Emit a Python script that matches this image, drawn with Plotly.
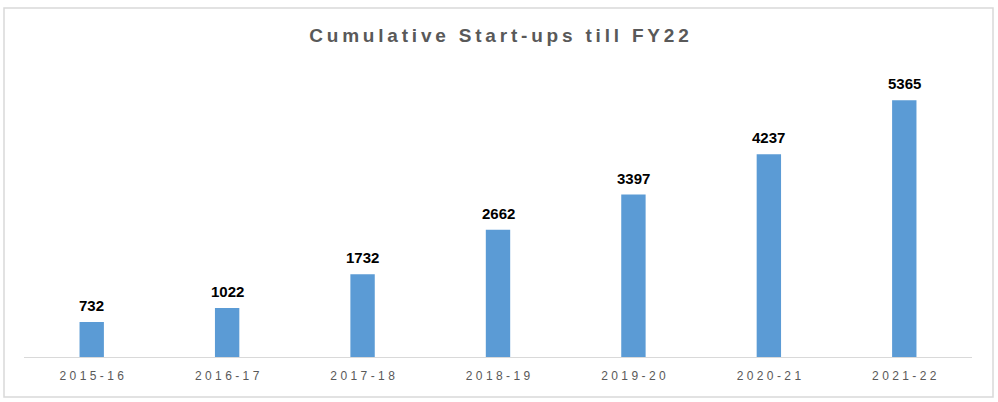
import plotly.graph_objects as go

# financial years and cumulative start-up counts
years = ["2015-16", "2016-17", "2017-18", "2018-19", "2019-20", "2020-21", "2021-22"]
startups = [732, 1022, 1732, 2662, 3397, 4237, 5365]

W, H = 998, 402
ml, mr, mt, mb = 24, 26, 70, 45
pw, ph = W - ml - mr, H - mt - mb


def spaced(s, sep="\u200a"):
    # fake letter spacing, plotly has no letter-spacing option
    return sep.join(s)


fig = go.Figure(
    go.Bar(
        x=years,
        y=startups,
        width=0.18,
        marker=dict(color="#5B9BD5", line=dict(width=0)),
        hoverinfo="skip",
    )
)

# value labels above the bars, a bit higher than plotly's outside text
for yr, v in zip(years, startups):
    fig.add_annotation(
        x=yr,
        y=v,
        text=str(v),
        showarrow=False,
        yanchor="bottom",
        yshift=6,
        font=dict(family="Liberation Sans, Arial", size=15, color="#000000", weight="bold"),
    )

fig.update_layout(
    width=W,
    height=H,
    margin=dict(l=ml, r=mr, t=mt, b=mb),
    paper_bgcolor="white",
    plot_bgcolor="white",
    showlegend=False,
    title=dict(
        text=spaced("Cumulative Start-ups till FY22", "\u2009"),
        x=0.5,
        xanchor="center",
        y=1 - 35 / H,
        yanchor="middle",
        font=dict(family="Liberation Sans, Arial", size=19, color="#595959", weight="bold"),
    ),
    xaxis=dict(
        tickmode="array",
        tickvals=years,
        ticktext=[spaced(y, "\u2009\u200a") for y in years],
        tickfont=dict(family="Liberation Sans, Arial", size=12, color="#595959"),
        ticklabelstandoff=8,
        showline=True,
        linecolor="#D9D9D9",
        linewidth=1,
        ticks="",
        showgrid=False,
    ),
    yaxis=dict(range=[0, 6000], visible=False, showgrid=False),
)

# light grey frame around the whole chart
fig.add_shape(
    type="rect",
    xref="paper",
    yref="paper",
    x0=(4 - ml) / pw,
    x1=(993 - ml) / pw,
    y0=(H - mb - 397) / ph,
    y1=(H - mb - 8) / ph,
    line=dict(color="#D9D9D9", width=1.5),
    fillcolor="rgba(0,0,0,0)",
    layer="below",
)

fig.write_html(
    "out.html",
    config={"displayModeBar": False},
    post_script="document.body.style.margin='0';document.body.style.overflow='hidden';",
)
